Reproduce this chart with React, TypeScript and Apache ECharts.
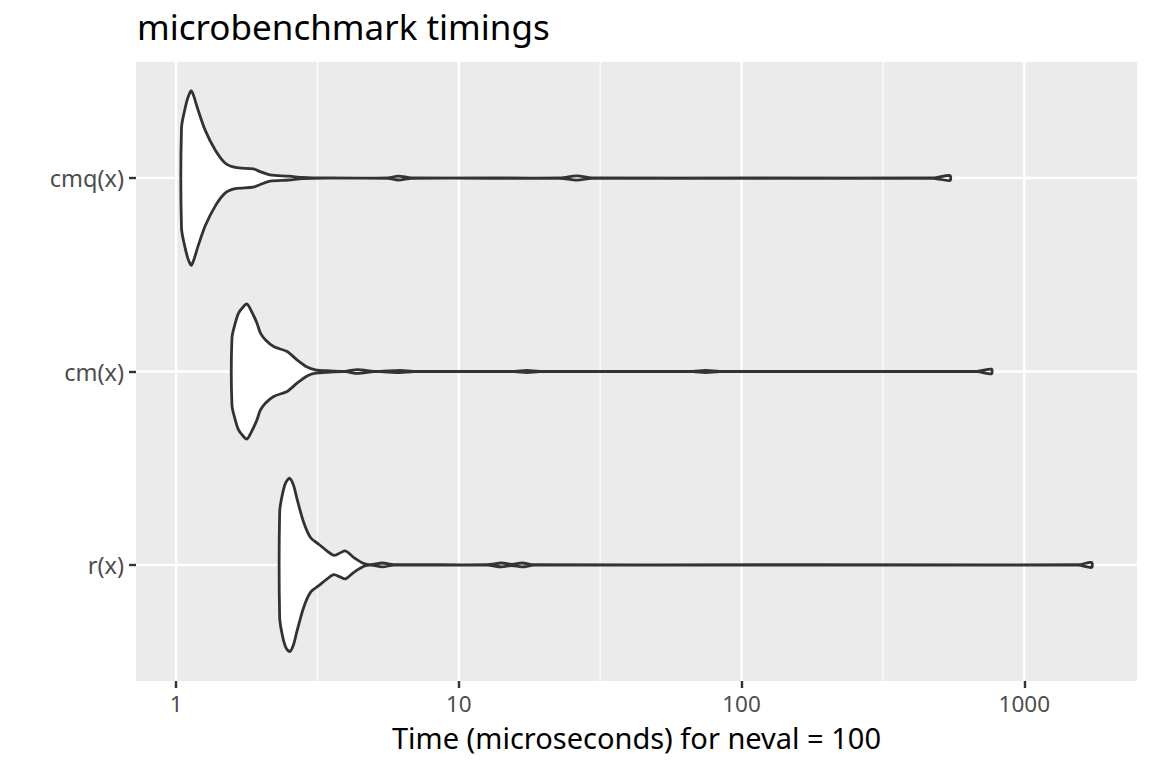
import React, { useEffect, useRef } from "react";
import * as echarts from "echarts";

// categories from bottom to top
const categories = ["r(x)", "cm(x)", "cmq(x)"];

// x tick labels (microseconds) and minor grid positions
const xBreaks = [1, 10, 100, 1000];
const xMinorBreaks = [3.1623, 31.623, 316.23];

// violin outlines: time (microseconds) and half-width (category units)
const rTime = [2.324, 2.371, 2.44, 2.522, 2.6, 2.679, 2.828, 2.987, 3.196, 3.422, 3.612, 3.8, 3.975, 4.254, 4.616, 4.875, 5.363, 5.896, 12.6, 14.16, 15.39, 16.73, 18.49, 1549, 1729];
const rWidth = [0.271, 0.357, 0.424, 0.448, 0.414, 0.34, 0.219, 0.142, 0.107, 0.072, 0.05, 0.062, 0.072, 0.038, 0.007, 0.001, 0.01, 0.001, 0.001, 0.01, 0.003, 0.01, 0.001, 0.001, 0.013];

const cmTime = [1.576, 1.619, 1.663, 1.72, 1.781, 1.85, 1.932, 1.986, 2.069, 2.213, 2.47, 2.679, 2.908, 3.111, 3.422, 3.975, 4.373, 5.009, 5.29, 6.18, 6.925, 15.73, 17.42, 19.29, 67.3, 74.6, 83.8, 680, 765];
const cmWidth = [0.173, 0.25, 0.302, 0.331, 0.349, 0.31, 0.25, 0.2, 0.164, 0.129, 0.103, 0.06, 0.023, 0.009, 0.004, 0.001, 0.01, 0.001, 0.001, 0.006, 0.001, 0.001, 0.006, 0.001, 0.001, 0.006, 0.001, 0.001, 0.012];

const cmqTime = [1.045, 1.073, 1.103, 1.134, 1.196, 1.267, 1.375, 1.49, 1.62, 1.875, 1.986, 2.15, 2.5, 2.8, 3.05, 5.61, 6.1, 6.82, 22.8, 26.2, 29.6, 475, 545.6];
const cmqWidth = [0.259, 0.352, 0.419, 0.45, 0.352, 0.248, 0.145, 0.078, 0.055, 0.047, 0.033, 0.016, 0.01, 0.003, 0.001, 0.001, 0.01, 0.001, 0.001, 0.011, 0.001, 0.001, 0.013];

const violinTimes = [rTime, cmTime, cmqTime];
const violinWidths = [rWidth, cmWidth, cmqWidth];

const titleText = "microbenchmark timings";
const xTitle = "Time (microseconds) for neval = 100";

export default function App() {
  const ref = useRef<HTMLDivElement>(null);

  useEffect(() => {
    if (!ref.current) return;
    const chart = echarts.init(ref.current, null, { renderer: "svg" });

    const allTimes = violinTimes.flat();
    const lo = Math.log10(Math.min(...allTimes));
    const hi = Math.log10(Math.max(...allTimes));
    const pad = (hi - lo) * 0.05;
    const X_MIN = lo - pad;
    const X_MAX = hi + pad;
    const Y_MIN = 0.4;
    const Y_MAX = categories.length + 0.6;

    const vGrid = [
      ...xBreaks.map((b) => [Math.log10(b), 1]),
      ...xMinorBreaks.map((b) => [Math.log10(b), 0]),
    ];
    const hGrid = categories.map((_, i) => [X_MIN, i + 1]);

    const option: any = {
      animation: false,
      backgroundColor: "#FFFFFF",
      title: {
        text: titleText,
        left: 132,
        top: 4,
        textStyle: {
          fontFamily: "Noto Sans",
          fontSize: 35,
          fontWeight: "normal",
          color: "#000000",
        },
      },
      grid: {
        left: 136,
        right: 15,
        top: 62,
        bottom: 87,
        show: true,
        backgroundColor: "#EBEBEB",
        borderWidth: 0,
      },
      xAxis: {
        type: "value",
        min: X_MIN,
        max: X_MAX,
        name: xTitle,
        nameLocation: "middle",
        nameGap: 41,
        nameTextStyle: { fontFamily: "Noto Sans", fontSize: 29, lineHeight: 30, color: "#000000" },
        axisLine: { show: false, onZero: false },
        axisTick: {
          show: true,
          customValues: xBreaks.map((b) => Math.log10(b)),
          length: 7,
          lineStyle: { color: "#333333", width: 2.4 },
        },
        axisLabel: {
          customValues: xBreaks.map((b) => Math.log10(b)),
          formatter: (v: number) => String(Math.round(Math.pow(10, v))),
          margin: 11,
          lineHeight: 23,
          fontFamily: "Noto Sans",
          fontSize: 22.5,
          color: "#4D4D4D",
        },
        splitLine: { show: false },
      },
      yAxis: {
        type: "value",
        min: Y_MIN,
        max: Y_MAX,
        axisLine: { show: false, onZero: false },
        axisTick: {
          show: true,
          customValues: categories.map((_, i) => i + 1),
          length: 7,
          lineStyle: { color: "#333333", width: 2.4 },
        },
        axisLabel: {
          customValues: categories.map((_, i) => i + 1),
          formatter: (v: number) => categories[Math.round(v) - 1] ?? "",
          margin: 12,
          fontFamily: "Noto Sans",
          fontSize: 23.5,
          color: "#4D4D4D",
        },
        splitLine: { show: false },
      },
      series: [
        {
          type: "custom",
          silent: true,
          z: 1,
          data: vGrid,
          encode: { x: 0, y: 1 },
          renderItem: (params: any, api: any) => {
            const v = api.value(0);
            const major = api.value(1) === 1;
            const p1 = api.coord([v, Y_MIN]);
            const p2 = api.coord([v, Y_MAX]);
            return {
              type: "line",
              shape: { x1: p1[0], y1: p1[1], x2: p2[0], y2: p2[1] },
              style: { stroke: "#FFFFFF", lineWidth: major ? 2.4 : 1.2 },
            };
          },
        },
        {
          type: "custom",
          silent: true,
          z: 1,
          data: hGrid,
          encode: { x: 0, y: 1 },
          renderItem: (params: any, api: any) => {
            const v = api.value(1);
            const p1 = api.coord([X_MIN, v]);
            const p2 = api.coord([X_MAX, v]);
            return {
              type: "line",
              shape: { x1: p1[0], y1: p1[1], x2: p2[0], y2: p2[1] },
              style: { stroke: "#FFFFFF", lineWidth: 2.4 },
            };
          },
        },
        {
          type: "custom",
          silent: true,
          z: 2,
          data: categories.map((_, i) => [Math.log10(violinTimes[i][0]), i + 1, i]),
          encode: { x: 0, y: 1 },
          renderItem: (params: any, api: any) => {
            const idx = api.value(2);
            const yc = api.value(1);
            const ts = violinTimes[idx];
            const ws = violinWidths[idx];
            const top: number[][] = [];
            const bottom: number[][] = [];
            for (let k = 0; k < ts.length; k++) {
              const lx = Math.log10(ts[k]);
              top.push(api.coord([lx, yc + ws[k]]));
              bottom.push(api.coord([lx, yc - ws[k]]));
            }
            const pts = top.concat(bottom.reverse());
            return {
              type: "polygon",
              shape: { points: pts, smooth: 0.3 },
              style: {
                fill: "#FFFFFF",
                stroke: "#333333",
                lineWidth: 2.8,
                lineJoin: "round",
              },
            };
          },
        },
      ],
    };

    chart.setOption(option);
    return () => chart.dispose();
  }, []);

  return (
    <div
      ref={ref}
      style={{ position: "absolute", left: 0, top: 0, width: 1152, height: 768 }}
    />
  );
}
